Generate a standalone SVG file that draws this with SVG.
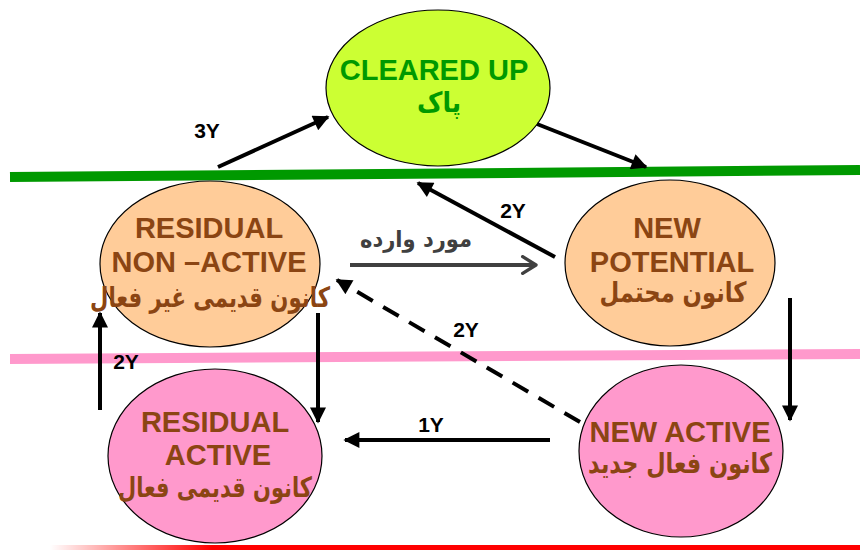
<svg xmlns="http://www.w3.org/2000/svg" width="860" height="550" viewBox="0 0 860 550">
<defs>
<marker id="ah" viewBox="0 0 10 10" refX="9" refY="5" markerWidth="4.5" markerHeight="4" orient="auto" markerUnits="strokeWidth">
<path d="M0,0 L10,5 L0,10 z" fill="#000"/>
</marker>
<marker id="chev" viewBox="0 0 12 12" refX="10" refY="6" markerWidth="5" markerHeight="5" orient="auto" markerUnits="strokeWidth">
<path d="M2,1 L10,6 L2,11" fill="none" stroke="#404040" stroke-width="2" stroke-linecap="round" stroke-linejoin="round"/>
</marker>
<linearGradient id="rg" x1="0" y1="0" x2="1" y2="0">
<stop offset="0" stop-color="#ff0000" stop-opacity="0"/>
<stop offset="0.2" stop-color="#ff0000" stop-opacity="1"/>
<stop offset="1" stop-color="#ff0000"/>
</linearGradient>
</defs>
<style>
.en{font-family:"Liberation Sans",Arial,sans-serif;font-weight:bold;font-size:29px;text-anchor:middle}
.fa{font-family:"DejaVu Sans","Noto Sans",sans-serif;font-weight:bold;font-size:28px;text-anchor:middle}
.brown{fill:#8B4513}
.green{fill:#009900}
.lbl{font-family:"Liberation Sans",Arial,sans-serif;font-weight:bold;font-size:21px;fill:#000;text-anchor:middle}
.ar{stroke:#000;stroke-width:4;fill:none;marker-end:url(#ah)}
.node{stroke:#000;stroke-width:1.2}
</style>
<rect width="860" height="550" fill="#fff"/>
<g id="bands">
<line x1="10" y1="177" x2="860" y2="170" stroke="#009900" stroke-width="10"/>
<line x1="10" y1="359" x2="860" y2="354" stroke="#FF99CC" stroke-width="10"/>
<rect x="50" y="545" width="810" height="5" fill="url(#rg)"/>
</g>
<g id="cleared">
<ellipse class="node" cx="438" cy="88" rx="112" ry="78" fill="#CCFF33"/>
<text class="en green" x="434" y="80">CLEARED UP</text>
<text class="fa green" x="439" y="112" textLength="44" lengthAdjust="spacingAndGlyphs">پاک</text>
</g>
<g id="residual-non-active">
<ellipse class="node" cx="210" cy="264" rx="110" ry="83" fill="#FFCC99"/>
<text class="en brown" x="209" y="238">RESIDUAL</text>
<text class="en brown" x="209" y="272">NON –ACTIVE</text>
<text class="fa brown" x="210" y="307" textLength="240" lengthAdjust="spacingAndGlyphs">کانون قدیمی غیر فعال</text>
</g>
<g id="new-potential">
<ellipse class="node" cx="670" cy="263" rx="105" ry="83" fill="#FFCC99"/>
<text class="en brown" x="667" y="238">NEW</text>
<text class="en brown" x="672" y="272">POTENTIAL</text>
<text class="fa brown" x="673" y="302" font-size="25" textLength="147" lengthAdjust="spacingAndGlyphs">کانون محتمل</text>
</g>
<g id="residual-active">
<ellipse class="node" cx="215" cy="456" rx="107" ry="87" fill="#FF99CC"/>
<text class="en brown" x="215" y="432">RESIDUAL</text>
<text class="en brown" x="218" y="465">ACTIVE</text>
<text class="fa brown" x="215" y="497" textLength="194" lengthAdjust="spacingAndGlyphs">کانون قدیمی فعال</text>
</g>
<g id="new-active">
<ellipse class="node" cx="681" cy="451" rx="102" ry="86" fill="#FF99CC"/>
<text class="en brown" x="680" y="442">NEW ACTIVE</text>
<text class="fa brown" x="680" y="473" textLength="184" lengthAdjust="spacingAndGlyphs">کانون فعال جدید</text>
</g>
<g id="connectors">
<line class="ar" x1="218" y1="167" x2="328" y2="117"/>
<line class="ar" x1="537" y1="124" x2="646" y2="167"/>
<line class="ar" x1="555" y1="257" x2="418" y2="183"/>
<line x1="350" y1="265" x2="536" y2="265" stroke="#404040" stroke-width="4" marker-end="url(#chev)"/>
<line class="ar" x1="580" y1="422" x2="337" y2="280" stroke-dasharray="18,12"/>
<line class="ar" x1="790" y1="298" x2="790" y2="420"/>
<line class="ar" x1="318" y1="313" x2="318" y2="422"/>
<line class="ar" x1="550" y1="440" x2="345" y2="440"/>
<line class="ar" x1="100" y1="410" x2="100" y2="313"/>
<text class="lbl" x="207" y="138">3Y</text>
<text class="lbl" x="513" y="218">2Y</text>
<text class="lbl" x="466" y="337">2Y</text>
<text class="lbl" x="431" y="432">1Y</text>
<text class="lbl" x="126" y="369">2Y</text>
<text x="416" y="247" font-family="'DejaVu Sans','Noto Sans',sans-serif" font-weight="bold" font-size="23" fill="#404040" text-anchor="middle" textLength="112" lengthAdjust="spacingAndGlyphs">مورد وارده</text>
</g>
</svg>
